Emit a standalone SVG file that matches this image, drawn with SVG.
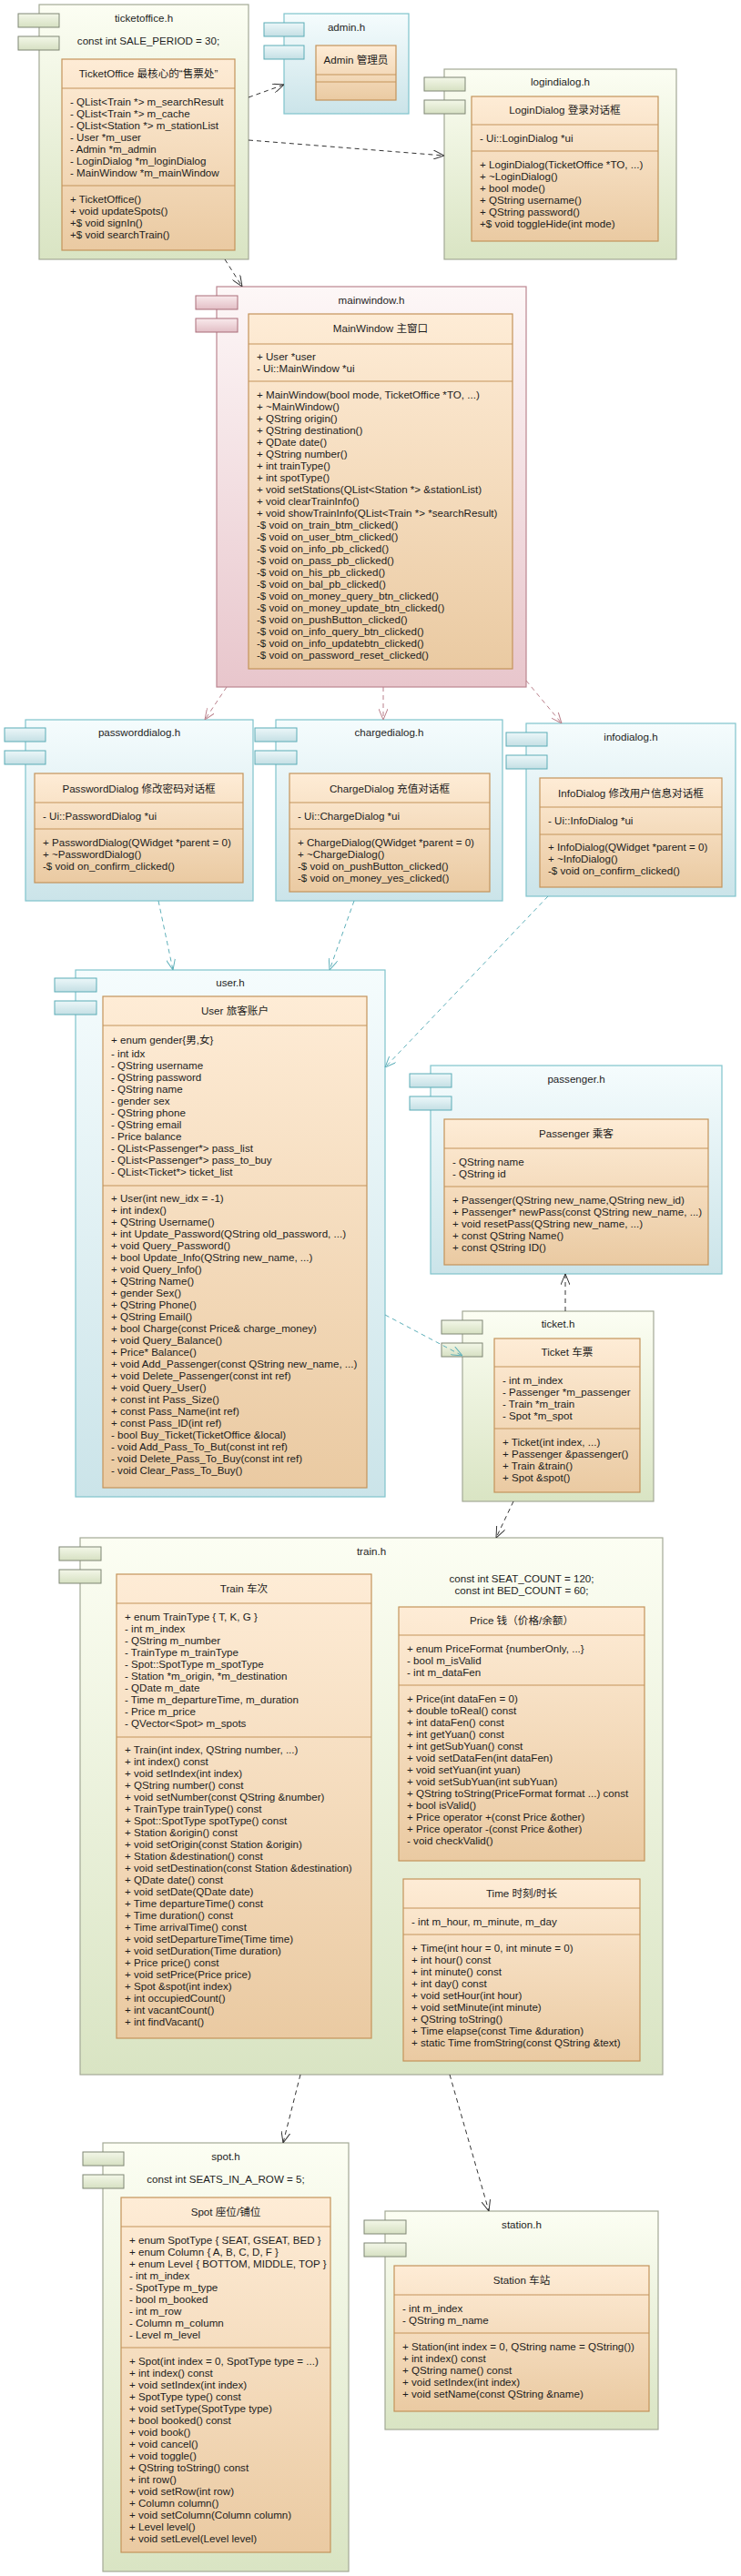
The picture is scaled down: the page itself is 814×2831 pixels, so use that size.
<svg xmlns="http://www.w3.org/2000/svg" width="814" height="2831" viewBox="0 0 814 2831">
<defs>
<linearGradient id="gG" x1="0" y1="0" x2="0" y2="1"><stop offset="0" stop-color="#fcfef3"/><stop offset="1" stop-color="#d9e4c3"/></linearGradient>
<linearGradient id="gGt" x1="0" y1="0" x2="0" y2="1"><stop offset="0" stop-color="#f3f7e8"/><stop offset="1" stop-color="#d6e0c2"/></linearGradient>
<linearGradient id="gB" x1="0" y1="0" x2="0" y2="1"><stop offset="0" stop-color="#f5fcfd"/><stop offset="1" stop-color="#cbe4e9"/></linearGradient>
<linearGradient id="gBt" x1="0" y1="0" x2="0" y2="1"><stop offset="0" stop-color="#ecf7f9"/><stop offset="1" stop-color="#c4dfe4"/></linearGradient>
<linearGradient id="gP" x1="0" y1="0" x2="0" y2="1"><stop offset="0" stop-color="#fdf7f7"/><stop offset="1" stop-color="#e8c6cc"/></linearGradient>
<linearGradient id="gPt" x1="0" y1="0" x2="0" y2="1"><stop offset="0" stop-color="#f9eaec"/><stop offset="1" stop-color="#e2bec5"/></linearGradient>
<linearGradient id="gC" x1="0" y1="0" x2="0" y2="1"><stop offset="0" stop-color="#feecd6"/><stop offset="1" stop-color="#eacaa2"/></linearGradient>
<marker id="ak" viewBox="0 0 12 10" refX="12" refY="5" markerWidth="12" markerHeight="10" markerUnits="userSpaceOnUse" orient="auto"><path d="M0,0 L12,5 L0,10" fill="none" stroke="#333" stroke-width="1"/></marker>
<marker id="ap" viewBox="0 0 12 10" refX="12" refY="5" markerWidth="12" markerHeight="10" markerUnits="userSpaceOnUse" orient="auto"><path d="M0,0 L12,5 L0,10" fill="none" stroke="#b97f8a" stroke-width="1"/></marker>
<marker id="at" viewBox="0 0 12 10" refX="12" refY="5" markerWidth="12" markerHeight="10" markerUnits="userSpaceOnUse" orient="auto"><path d="M0,0 L12,5 L0,10" fill="none" stroke="#5fb0ba" stroke-width="1"/></marker>
</defs>
<style>
text{font-family:"Liberation Sans","Noto Sans CJK SC",sans-serif;font-size:11.6px;fill:#1c1c1c}
.c{text-anchor:middle}
.gc{fill:url(#gG);stroke:#a3a996;stroke-width:1.2}
.gt{fill:url(#gGt);stroke:#7f8674;stroke-width:1}
.bc{fill:url(#gB);stroke:#7fc4cc;stroke-width:1.2}
.bt{fill:url(#gBt);stroke:#5aacb6;stroke-width:1}
.pc{fill:url(#gP);stroke:#bb8590;stroke-width:1.2}
.pt{fill:url(#gPt);stroke:#a96c78;stroke-width:1}
.cls{fill:url(#gC);stroke:#c3935a;stroke-width:1.2}
.sep{stroke:#c3935a;stroke-width:1.2}
.k{fill:none;stroke:#333;stroke-width:1;stroke-dasharray:5 4;marker-end:url(#ak)}
.kp{fill:none;stroke:#b97f8a;stroke-width:1;stroke-dasharray:5 4;marker-end:url(#ap)}
.kt{fill:none;stroke:#5fb0ba;stroke-width:1;stroke-dasharray:5 4;marker-end:url(#at)}
</style>
<rect x="0" y="0" width="814" height="2831" fill="#ffffff"/>

<g id="ticketoffice">
<rect class="gc" x="43" y="5" width="230" height="280"/>
<rect class="gt" x="20" y="15" width="45" height="15"/>
<rect class="gt" x="20" y="40" width="45" height="15"/>
<text class="c" x="158" y="24">ticketoffice.h</text>
<text class="c" x="163" y="49">const int SALE_PERIOD = 30;</text>
<rect class="cls" x="68" y="65" width="190" height="210"/>
<text class="c" x="163" y="85">TicketOffice 最核心的“售票处”</text>
<line class="sep" x1="68" y1="97" x2="258" y2="97"/>
<text x="77" y="116">- QList&lt;Train *&gt; m_searchResult</text>
<text x="77" y="129">- QList&lt;Train *&gt; m_cache</text>
<text x="77" y="142">- QList&lt;Station *&gt; m_stationList</text>
<text x="77" y="155">- User *m_user</text>
<text x="77" y="168">- Admin *m_admin</text>
<text x="77" y="181">- LoginDialog *m_loginDialog</text>
<text x="77" y="194">- MainWindow *m_mainWindow</text>
<line class="sep" x1="68" y1="204" x2="258" y2="204"/>
<text x="77" y="223">+ TicketOffice()</text>
<text x="77" y="236">+ void updateSpots()</text>
<text x="77" y="249">+$ void signIn()</text>
<text x="77" y="262">+$ void searchTrain()</text>
</g>

<g id="admin">
<rect class="bc" x="312" y="15" width="137" height="110"/>
<rect class="bt" x="290" y="25" width="44" height="15"/>
<rect class="bt" x="290" y="50" width="44" height="15"/>
<text class="c" x="380.5" y="34">admin.h</text>
<rect class="cls" x="347" y="50" width="88" height="60"/>
<text class="c" x="391" y="70">Admin 管理员</text>
<line class="sep" x1="347" y1="82" x2="435" y2="82"/>
<line class="sep" x1="347" y1="90" x2="435" y2="90"/>
</g>

<g id="logindialog">
<rect class="gc" x="488" y="76" width="255" height="209"/>
<rect class="gt" x="466" y="85" width="45" height="15"/>
<rect class="gt" x="466" y="110" width="45" height="15"/>
<text class="c" x="615.5" y="94">logindialog.h</text>
<rect class="cls" x="518" y="106" width="205" height="159"/>
<text class="c" x="620.5" y="125">LoginDialog 登录对话框</text>
<line class="sep" x1="518" y1="137" x2="723" y2="137"/>
<text x="527" y="156">- Ui::LoginDialog *ui</text>
<line class="sep" x1="518" y1="166" x2="723" y2="166"/>
<text x="527" y="185">+ LoginDialog(TicketOffice *TO, ...)</text>
<text x="527" y="198">+ ~LoginDialog()</text>
<text x="527" y="211">+ bool mode()</text>
<text x="527" y="224">+ QString username()</text>
<text x="527" y="237">+ QString password()</text>
<text x="527" y="250">+$ void toggleHide(int mode)</text>
</g>

<g id="mainwindow">
<rect class="pc" x="238" y="315" width="340" height="440"/>
<rect class="pt" x="215" y="325" width="46" height="15"/>
<rect class="pt" x="215" y="350" width="46" height="15"/>
<text class="c" x="408" y="334">mainwindow.h</text>
<rect class="cls" x="273" y="345" width="290" height="390"/>
<text class="c" x="418" y="365">MainWindow 主窗口</text>
<line class="sep" x1="273" y1="378" x2="563" y2="378"/>
<text x="282" y="396">+ User *user</text>
<text x="282" y="409">- Ui::MainWindow *ui</text>
<line class="sep" x1="273" y1="419" x2="563" y2="419"/>
<text x="282" y="438">+ MainWindow(bool mode, TicketOffice *TO, ...)</text>
<text x="282" y="451">+ ~MainWindow()</text>
<text x="282" y="464">+ QString origin()</text>
<text x="282" y="477">+ QString destination()</text>
<text x="282" y="490">+ QDate date()</text>
<text x="282" y="503">+ QString number()</text>
<text x="282" y="516">+ int trainType()</text>
<text x="282" y="529">+ int spotType()</text>
<text x="282" y="542">+ void setStations(QList&lt;Station *&gt; &amp;stationList)</text>
<text x="282" y="555">+ void clearTrainInfo()</text>
<text x="282" y="568">+ void showTrainInfo(QList&lt;Train *&gt; *searchResult)</text>
<text x="282" y="581">-$ void on_train_btm_clicked()</text>
<text x="282" y="594">-$ void on_user_btm_clicked()</text>
<text x="282" y="607">-$ void on_info_pb_clicked()</text>
<text x="282" y="620">-$ void on_pass_pb_clicked()</text>
<text x="282" y="633">-$ void on_his_pb_clicked()</text>
<text x="282" y="646">-$ void on_bal_pb_clicked()</text>
<text x="282" y="659">-$ void on_money_query_btn_clicked()</text>
<text x="282" y="672">-$ void on_money_update_btn_clicked()</text>
<text x="282" y="685">-$ void on_pushButton_clicked()</text>
<text x="282" y="698">-$ void on_info_query_btn_clicked()</text>
<text x="282" y="711">-$ void on_info_updatebtn_clicked()</text>
<text x="282" y="724">-$ void on_password_reset_clicked()</text>
</g>

<g id="passworddialog">
<rect class="bc" x="28" y="791" width="250" height="199"/>
<rect class="bt" x="5" y="800" width="45" height="15"/>
<rect class="bt" x="5" y="825" width="45" height="15"/>
<text class="c" x="153" y="809">passworddialog.h</text>
<rect class="cls" x="38" y="850" width="229" height="120"/>
<text class="c" x="152.5" y="871">PasswordDialog 修改密码对话框</text>
<line class="sep" x1="38" y1="882" x2="267" y2="882"/>
<text x="47" y="901">- Ui::PasswordDialog *ui</text>
<line class="sep" x1="38" y1="911" x2="267" y2="911"/>
<text x="47" y="930">+ PasswordDialog(QWidget *parent = 0)</text>
<text x="47" y="943">+ ~PasswordDialog()</text>
<text x="47" y="956">-$ void on_confirm_clicked()</text>
</g>

<g id="chargedialog">
<rect class="bc" x="303" y="791" width="249" height="199"/>
<rect class="bt" x="280" y="800" width="46" height="15"/>
<rect class="bt" x="280" y="825" width="46" height="15"/>
<text class="c" x="427.5" y="809">chargedialog.h</text>
<rect class="cls" x="318" y="850" width="220" height="130"/>
<text class="c" x="428" y="871">ChargeDialog 充值对话框</text>
<line class="sep" x1="318" y1="882" x2="538" y2="882"/>
<text x="327" y="901">- Ui::ChargeDialog *ui</text>
<line class="sep" x1="318" y1="911" x2="538" y2="911"/>
<text x="327" y="930">+ ChargeDialog(QWidget *parent = 0)</text>
<text x="327" y="943">+ ~ChargeDialog()</text>
<text x="327" y="956">-$ void on_pushButton_clicked()</text>
<text x="327" y="969">-$ void on_money_yes_clicked()</text>
</g>

<g id="infodialog">
<rect class="bc" x="578" y="795" width="230" height="190"/>
<rect class="bt" x="556" y="805" width="45" height="15"/>
<rect class="bt" x="556" y="830" width="45" height="15"/>
<text class="c" x="693" y="814">infodialog.h</text>
<rect class="cls" x="593" y="855" width="200" height="120"/>
<text class="c" x="693" y="876">InfoDialog 修改用户信息对话框</text>
<line class="sep" x1="593" y1="887" x2="793" y2="887"/>
<text x="602" y="906">- Ui::InfoDialog *ui</text>
<line class="sep" x1="593" y1="917" x2="793" y2="917"/>
<text x="602" y="935">+ InfoDialog(QWidget *parent = 0)</text>
<text x="602" y="948">+ ~InfoDialog()</text>
<text x="602" y="961">-$ void on_confirm_clicked()</text>
</g>

<g id="user">
<rect class="bc" x="83" y="1066" width="340" height="579"/>
<rect class="bt" x="60" y="1075" width="46" height="15"/>
<rect class="bt" x="60" y="1100" width="46" height="15"/>
<text class="c" x="253" y="1084">user.h</text>
<rect class="cls" x="113" y="1095" width="290" height="540"/>
<text class="c" x="258" y="1115">User 旅客账户</text>
<line class="sep" x1="113" y1="1127" x2="403" y2="1127"/>
<text x="122" y="1147">+ enum gender{男,女}</text>
<text x="122" y="1162">- int idx</text>
<text x="122" y="1175">- QString username</text>
<text x="122" y="1188">- QString password</text>
<text x="122" y="1201">- QString name</text>
<text x="122" y="1214">- gender sex</text>
<text x="122" y="1227">- QString phone</text>
<text x="122" y="1240">- QString email</text>
<text x="122" y="1253">- Price balance</text>
<text x="122" y="1266">- QList&lt;Passenger*&gt; pass_list</text>
<text x="122" y="1279">- QList&lt;Passenger*&gt; pass_to_buy</text>
<text x="122" y="1292">- QList&lt;Ticket*&gt; ticket_list</text>
<line class="sep" x1="113" y1="1303" x2="403" y2="1303"/>
<text x="122" y="1321">+ User(int new_idx = -1)</text>
<text x="122" y="1334">+ int index()</text>
<text x="122" y="1347">+ QString Username()</text>
<text x="122" y="1360">+ int Update_Password(QString old_password, ...)</text>
<text x="122" y="1373">+ void Query_Password()</text>
<text x="122" y="1386">+ bool Update_Info(QString new_name, ...)</text>
<text x="122" y="1399">+ void Query_Info()</text>
<text x="122" y="1412">+ QString Name()</text>
<text x="122" y="1425">+ gender Sex()</text>
<text x="122" y="1438">+ QString Phone()</text>
<text x="122" y="1451">+ QString Email()</text>
<text x="122" y="1464">+ bool Charge(const Price&amp; charge_money)</text>
<text x="122" y="1477">+ void Query_Balance()</text>
<text x="122" y="1490">+ Price* Balance()</text>
<text x="122" y="1503">+ void Add_Passenger(const QString new_name, ...)</text>
<text x="122" y="1516">+ void Delete_Passenger(const int ref)</text>
<text x="122" y="1529">+ void Query_User()</text>
<text x="122" y="1542">+ const int Pass_Size()</text>
<text x="122" y="1555">+ const Pass_Name(int ref)</text>
<text x="122" y="1568">+ const Pass_ID(int ref)</text>
<text x="122" y="1581">- bool Buy_Ticket(TicketOffice &amp;local)</text>
<text x="122" y="1594">- void Add_Pass_To_But(const int ref)</text>
<text x="122" y="1607">- void Delete_Pass_To_Buy(const int ref)</text>
<text x="122" y="1620">- void Clear_Pass_To_Buy()</text>
</g>

<g id="passenger">
<rect class="bc" x="473" y="1171" width="320" height="229"/>
<rect class="bt" x="450" y="1180" width="46" height="15"/>
<rect class="bt" x="450" y="1205" width="46" height="15"/>
<text class="c" x="633" y="1190">passenger.h</text>
<rect class="cls" x="488" y="1230" width="290" height="160"/>
<text class="c" x="633" y="1250">Passenger 乘客</text>
<line class="sep" x1="488" y1="1262" x2="778" y2="1262"/>
<text x="497" y="1281">- QString name</text>
<text x="497" y="1294">- QString id</text>
<line class="sep" x1="488" y1="1304" x2="778" y2="1304"/>
<text x="497" y="1323">+ Passenger(QString new_name,QString new_id)</text>
<text x="497" y="1336">+ Passenger* newPass(const QString new_name, ...)</text>
<text x="497" y="1349">+ void resetPass(QString new_name, ...)</text>
<text x="497" y="1362">+ const QString Name()</text>
<text x="497" y="1375">+ const QString ID()</text>
</g>

<g id="ticket">
<rect class="gc" x="508" y="1441" width="210" height="209"/>
<rect class="gt" x="485" y="1451" width="45" height="15"/>
<rect class="gt" x="485" y="1476" width="45" height="15"/>
<text class="c" x="613" y="1459">ticket.h</text>
<rect class="cls" x="543" y="1471" width="160" height="169"/>
<text class="c" x="623" y="1490">Ticket 车票</text>
<line class="sep" x1="543" y1="1502" x2="703" y2="1502"/>
<text x="552" y="1521">- int m_index</text>
<text x="552" y="1534">- Passenger *m_passenger</text>
<text x="552" y="1547">- Train *m_train</text>
<text x="552" y="1560">- Spot *m_spot</text>
<line class="sep" x1="543" y1="1570" x2="703" y2="1570"/>
<text x="552" y="1589">+ Ticket(int index, ...)</text>
<text x="552" y="1602">+ Passenger &amp;passenger()</text>
<text x="552" y="1615">+ Train &amp;train()</text>
<text x="552" y="1628">+ Spot &amp;spot()</text>
</g>

<g id="train">
<rect class="gc" x="88" y="1690" width="640" height="590"/>
<rect class="gt" x="65" y="1700" width="46" height="15"/>
<rect class="gt" x="65" y="1725" width="46" height="15"/>
<text class="c" x="408" y="1709">train.h</text>
<text class="c" x="573" y="1739">const int SEAT_COUNT = 120;</text>
<text class="c" x="573" y="1752">const int BED_COUNT = 60;</text>
<rect class="cls" x="128" y="1730" width="280" height="510"/>
<text class="c" x="268" y="1750">Train 车次</text>
<line class="sep" x1="128" y1="1762" x2="408" y2="1762"/>
<text x="137" y="1781">+ enum TrainType { T, K, G }</text>
<text x="137" y="1794">- int m_index</text>
<text x="137" y="1807">- QString m_number</text>
<text x="137" y="1820">- TrainType m_trainType</text>
<text x="137" y="1833">- Spot::SpotType m_spotType</text>
<text x="137" y="1846">- Station *m_origin, *m_destination</text>
<text x="137" y="1859">- QDate m_date</text>
<text x="137" y="1872">- Time m_departureTime, m_duration</text>
<text x="137" y="1885">- Price m_price</text>
<text x="137" y="1898">- QVector&lt;Spot&gt; m_spots</text>
<line class="sep" x1="128" y1="1909" x2="408" y2="1909"/>
<text x="137" y="1927">+ Train(int index, QString number, ...)</text>
<text x="137" y="1940">+ int index() const</text>
<text x="137" y="1953">+ void setIndex(int index)</text>
<text x="137" y="1966">+ QString number() const</text>
<text x="137" y="1979">+ void setNumber(const QString &amp;number)</text>
<text x="137" y="1992">+ TrainType trainType() const</text>
<text x="137" y="2005">+ Spot::SpotType spotType() const</text>
<text x="137" y="2018">+ Station &amp;origin() const</text>
<text x="137" y="2031">+ void setOrigin(const Station &amp;origin)</text>
<text x="137" y="2044">+ Station &amp;destination() const</text>
<text x="137" y="2057">+ void setDestination(const Station &amp;destination)</text>
<text x="137" y="2070">+ QDate date() const</text>
<text x="137" y="2083">+ void setDate(QDate date)</text>
<text x="137" y="2096">+ Time departureTime() const</text>
<text x="137" y="2109">+ Time duration() const</text>
<text x="137" y="2122">+ Time arrivalTime() const</text>
<text x="137" y="2135">+ void setDepartureTime(Time time)</text>
<text x="137" y="2148">+ void setDuration(Time duration)</text>
<text x="137" y="2161">+ Price price() const</text>
<text x="137" y="2174">+ void setPrice(Price price)</text>
<text x="137" y="2187">+ Spot &amp;spot(int index)</text>
<text x="137" y="2200">+ int occupiedCount()</text>
<text x="137" y="2213">+ int vacantCount()</text>
<text x="137" y="2226">+ int findVacant()</text>
<rect class="cls" x="438" y="1766" width="270" height="279"/>
<text class="c" x="573" y="1785">Price 钱（价格/余额）</text>
<line class="sep" x1="438" y1="1797" x2="708" y2="1797"/>
<text x="447" y="1816">+ enum PriceFormat {numberOnly, ...}</text>
<text x="447" y="1829">- bool m_isValid</text>
<text x="447" y="1842">- int m_dataFen</text>
<line class="sep" x1="438" y1="1852" x2="708" y2="1852"/>
<text x="447" y="1871">+ Price(int dataFen = 0)</text>
<text x="447" y="1884">+ double toReal() const</text>
<text x="447" y="1897">+ int dataFen() const</text>
<text x="447" y="1910">+ int getYuan() const</text>
<text x="447" y="1923">+ int getSubYuan() const</text>
<text x="447" y="1936">+ void setDataFen(int dataFen)</text>
<text x="447" y="1949">+ void setYuan(int yuan)</text>
<text x="447" y="1962">+ void setSubYuan(int subYuan)</text>
<text x="447" y="1975">+ QString toString(PriceFormat format ...) const</text>
<text x="447" y="1988">+ bool isValid()</text>
<text x="447" y="2001">+ Price operator +(const Price &amp;other)</text>
<text x="447" y="2014">+ Price operator -(const Price &amp;other)</text>
<text x="447" y="2027">- void checkValid()</text>
<rect class="cls" x="443" y="2065" width="260" height="200"/>
<text class="c" x="573" y="2085">Time 时刻/时长</text>
<line class="sep" x1="443" y1="2097" x2="703" y2="2097"/>
<text x="452" y="2116">- int m_hour, m_minute, m_day</text>
<line class="sep" x1="443" y1="2126" x2="703" y2="2126"/>
<text x="452" y="2145">+ Time(int hour = 0, int minute = 0)</text>
<text x="452" y="2158">+ int hour() const</text>
<text x="452" y="2171">+ int minute() const</text>
<text x="452" y="2184">+ int day() const</text>
<text x="452" y="2197">+ void setHour(int hour)</text>
<text x="452" y="2210">+ void setMinute(int minute)</text>
<text x="452" y="2223">+ QString toString()</text>
<text x="452" y="2236">+ Time elapse(const Time &amp;duration)</text>
<text x="452" y="2249">+ static Time fromString(const QString &amp;text)</text>
</g>

<g id="spot">
<rect class="gc" x="113" y="2355" width="270" height="471"/>
<rect class="gt" x="91" y="2365" width="45" height="15"/>
<rect class="gt" x="91" y="2390" width="45" height="15"/>
<text class="c" x="248" y="2374">spot.h</text>
<text class="c" x="248" y="2399">const int SEATS_IN_A_ROW = 5;</text>
<rect class="cls" x="133" y="2415" width="230" height="390"/>
<text class="c" x="248" y="2435">Spot 座位/铺位</text>
<line class="sep" x1="133" y1="2447" x2="363" y2="2447"/>
<text x="142" y="2466">+ enum SpotType { SEAT, GSEAT, BED }</text>
<text x="142" y="2479">+ enum Column { A, B, C, D, F }</text>
<text x="142" y="2492">+ enum Level { BOTTOM, MIDDLE, TOP }</text>
<text x="142" y="2505">- int m_index</text>
<text x="142" y="2518">- SpotType m_type</text>
<text x="142" y="2531">- bool m_booked</text>
<text x="142" y="2544">- int m_row</text>
<text x="142" y="2557">- Column m_column</text>
<text x="142" y="2570">- Level m_level</text>
<line class="sep" x1="133" y1="2580" x2="363" y2="2580"/>
<text x="142" y="2599">+ Spot(int index = 0, SpotType type = ...)</text>
<text x="142" y="2612">+ int index() const</text>
<text x="142" y="2625">+ void setIndex(int index)</text>
<text x="142" y="2638">+ SpotType type() const</text>
<text x="142" y="2651">+ void setType(SpotType type)</text>
<text x="142" y="2664">+ bool booked() const</text>
<text x="142" y="2677">+ void book()</text>
<text x="142" y="2690">+ void cancel()</text>
<text x="142" y="2703">+ void toggle()</text>
<text x="142" y="2716">+ QString toString() const</text>
<text x="142" y="2729">+ int row()</text>
<text x="142" y="2742">+ void setRow(int row)</text>
<text x="142" y="2755">+ Column column()</text>
<text x="142" y="2768">+ void setColumn(Column column)</text>
<text x="142" y="2781">+ Level level()</text>
<text x="142" y="2794">+ void setLevel(Level level)</text>
</g>

<g id="station">
<rect class="gc" x="423" y="2430" width="300" height="240"/>
<rect class="gt" x="400" y="2440" width="46" height="15"/>
<rect class="gt" x="400" y="2465" width="46" height="15"/>
<text class="c" x="573" y="2449">station.h</text>
<rect class="cls" x="433" y="2490" width="280" height="160"/>
<text class="c" x="573" y="2510">Station 车站</text>
<line class="sep" x1="433" y1="2522" x2="713" y2="2522"/>
<text x="442" y="2541">- int m_index</text>
<text x="442" y="2554">- QString m_name</text>
<line class="sep" x1="433" y1="2564" x2="713" y2="2564"/>
<text x="442" y="2583">+ Station(int index = 0, QString name = QString())</text>
<text x="442" y="2596">+ int index() const</text>
<text x="442" y="2609">+ QString name() const</text>
<text x="442" y="2622">+ void setIndex(int index)</text>
<text x="442" y="2635">+ void setName(const QString &amp;name)</text>
</g>

<g id="connectors">
<path class="k" d="M273,107 L312,93"/>
<path class="k" d="M273,154 L488,171"/>
<path class="k" d="M247,285 L266,315"/>
<path class="kp" d="M249,755 L225,791"/>
<path class="kp" d="M421,755 L421,791"/>
<path class="kp" d="M578,748 L617,795"/>
<path class="kt" d="M174,990 L190,1066"/>
<path class="kt" d="M389,990 L362,1066"/>
<path class="kt" d="M602,985 L423,1173"/>
<path class="kt" d="M423,1445 L508,1490"/>
<path class="k" d="M621,1441 L621,1400"/>
<path class="k" d="M564,1650 L545,1690"/>
<path class="k" d="M330,2280 L311,2355"/>
<path class="k" d="M494,2280 L537,2430"/>
</g>
</svg>
